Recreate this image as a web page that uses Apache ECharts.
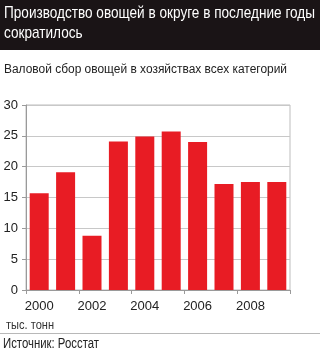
<!DOCTYPE html>
<html><head><meta charset="utf-8">
<script src="https://cdn.jsdelivr.net/npm/echarts@6/dist/echarts.min.js"></script>
<style>html,body{margin:0;padding:0;background:#fff}#c{width:320px;height:353px}</style>
</head><body><div id="c"></div>
<script>
const years = ['2000','2001','2002','2003','2004','2005','2006','2007','2008','2009'];
const harvest = [15.7, 19.1, 8.8, 24.1, 24.9, 25.7, 24.0, 17.2, 17.5, 17.5];
const yTicks = {min: 0, max: 30, interval: 5};
const titleLines = ['Производство овощей в округе в последние годы', 'сократилось'];
const subtitle = 'Валовой сбор овощей в хозяйствах всех категорий';
const unitText = 'тыс. тонн';
const sourceText = 'Источник: Росстат';
const FAM = '"Liberation Sans", Arial, sans-serif';

const mctx = document.createElement('canvas').getContext('2d');
function fitScale(str, size, width) {
  mctx.font = size + 'px ' + FAM;
  return width / mctx.measureText(str).width;
}
function txt(str, x, yCenter, size, sx, color) {
  return {type: 'text', x: x, y: yCenter, scaleX: sx, z: 10,
    style: {text: str, x: 0, y: 0, fill: color, font: size + 'px ' + FAM, verticalAlign: 'middle', align: 'left'}};
}
const tScale = fitScale(titleLines[0], 17, 311);
const sScale = fitScale(subtitle, 12, 283);
const uScale = fitScale(unitText, 13, 48);
const srcScale = fitScale(sourceText, 14, 96);

const chart = echarts.init(document.getElementById('c'), null, {renderer: 'canvas'});
chart.setOption({
  animation: false,
  backgroundColor: '#fff',
  graphic: [
    {type: 'rect', shape: {x: 0, y: 0, width: 320, height: 50}, style: {fill: '#1a1416'}, z: 0},
    {type: 'line', shape: {x1: 0, y1: 333.5, x2: 320, y2: 333.5}, style: {stroke: '#b8b8b8', lineWidth: 1}},
    txt(titleLines[0], 4, 13.5, 17, tScale, '#ffffff'),
    txt(titleLines[1], 4, 33.5, 17, tScale, '#ffffff'),
    txt(subtitle, 4, 69.5, 12, sScale, '#222222'),
    txt(unitText, 6, 325, 13, uScale, '#333333'),
    txt(sourceText, 3, 344.5, 14, srcScale, '#222222')
  ],
  grid: {left: 26, right: 30, top: 105, bottom: 63, show: true, borderColor: '#bdbdbd', borderWidth: 1},
  xAxis: {
    type: 'category', data: years,
    axisLine: {lineStyle: {color: '#9a9a9a'}},
    axisTick: {show: true, interval: 1, length: 4, lineStyle: {color: '#9a9a9a'}},
    axisLabel: {interval: 1, color: '#222', fontSize: 13, fontFamily: FAM, margin: 10}
  },
  yAxis: {
    type: 'value', min: yTicks.min, max: yTicks.max, interval: yTicks.interval,
    axisLine: {show: true, lineStyle: {color: '#9a9a9a'}},
    axisTick: {show: true, length: 4, lineStyle: {color: '#9a9a9a'}},
    splitLine: {lineStyle: {color: '#c8c8c8'}},
    axisLabel: {color: '#222', fontSize: 13, fontFamily: FAM, margin: 8}
  },
  series: [{type: 'bar', data: harvest, barWidth: 19, itemStyle: {color: '#e81c24'}}]
});
</script></body></html>
